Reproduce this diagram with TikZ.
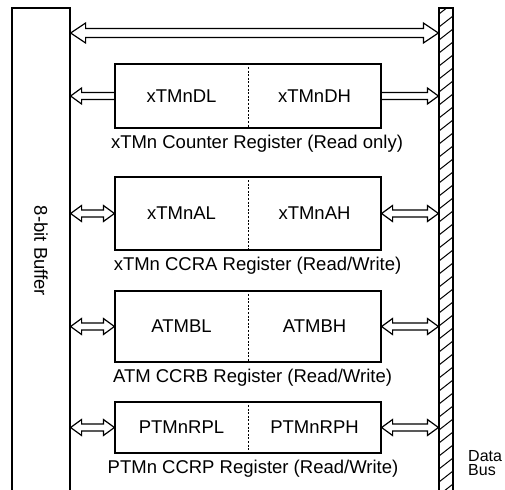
\documentclass[tikz,border=0pt]{standalone}
\usepackage{fontspec}
\setmainfont{Liberation Sans}
\usetikzlibrary{calc}
\tikzset{
  x=1pt, y=-1pt,
  txt/.style={font=\fontsize{18.5}{22}\selectfont, inner sep=0pt},
  dbtxt/.style={font=\fontsize{16}{14.5}\selectfont, inner sep=0pt, align=left},
  reg/.style={draw, line width=1.2pt, minimum width=266pt, inner sep=0pt},
  frame/.style={draw, line width=1.2pt, inner sep=0pt},
  divider/.style={line width=1pt, dash pattern=on 2pt off 1.6pt},
  biarrow/.style n args={3}{line width=1.2pt, to path={
    let \p1=(\tikztostart), \p2=(\tikztotarget) in
    (\x1,\y1) -- (\x1+#1pt,\y1+#2pt) -- (\x1+#1pt,\y1+#3pt) -- (\x2-#1pt,\y1+#3pt)
    -- (\x2-#1pt,\y1+#2pt) -- (\x2,\y1) -- (\x2-#1pt,\y1-#2pt) -- (\x2-#1pt,\y1-#3pt)
    -- (\x1+#1pt,\y1-#3pt) -- (\x1+#1pt,\y1-#2pt) -- cycle}},
  sarrow/.style n args={3}{line width=1.2pt, to path={
    let \p1=(\tikztostart), \p2=(\tikztotarget), \n1={(\x2-\x1)/abs(\x2-\x1)} in
    (\x1,\y1+#3pt) -- (\x2-\n1*#1pt,\y1+#3pt) -- (\x2-\n1*#1pt,\y1+#2pt) -- (\x2,\y1)
    -- (\x2-\n1*#1pt,\y1-#2pt) -- (\x2-\n1*#1pt,\y1-#3pt) -- (\x1,\y1-#3pt)}},
  bigbi/.style={biarrow={15}{10}{4.5}},
  bi/.style={biarrow={11}{8}{3.5}},
  one/.style={sarrow={11}{8}{3.5}},
}
\begin{document}
\begin{tikzpicture}
\useasboundingbox (0,0) rectangle (505,489);
% 8-bit buffer
\node[frame, minimum width=58pt, minimum height=486pt] (buf) at (41,251) {};
\node[txt, rotate=-90] (buftxt) at (41,251) {8-bit Buffer};
% data bus
\node[frame, minimum width=14pt, minimum height=486pt] (bus) at (446,251) {};
\begin{scope}
  \clip (bus.south west) rectangle (bus.north east);
  \foreach \yy in {14,27,...,510} \draw[line width=1pt] (439,\yy) -- (453,\yy-11);
\end{scope}
\node[frame, minimum width=14pt, minimum height=486pt] at (446,251) {};
\node[dbtxt, anchor=west] (dbus) at (468,463) {Data\\Bus};
% top arrow
\coordinate (toprow) at (0,33);
\draw[bigbi] (toprow -| buf.east) to (toprow -| bus.west);
% registers
\foreach \k/\yt/\yb/\lo/\hi/\lab/\lx in {
  1/64/128/xTMnDL/xTMnDH/{xTMn Counter Register (Read only)}/257,
  2/177/250/xTMnAL/xTMnAH/{xTMn CCRA Register (Read/Write)}/257.5,
  3/291/362/ATMBL/ATMBH/{ATM CCRB Register (Read/Write)}/252.5,
  4/402/453/PTMnRPL/PTMnRPH/{PTMn CCRP Register (Read/Write)}/253}{
  \node[reg, minimum height=\yb pt-\yt pt] (r\k) at (248,{(\yt+\yb)/2}) {};
  \draw[divider] (r\k.north) -- (r\k.south);
  \node[txt] (r\k l) at (181.5,{(\yt+\yb)/2}) {\lo};
  \node[txt] (r\k h) at (314.5,{(\yt+\yb)/2}) {\hi};
  \node[txt] (r\k lab) at (\lx,\yb+16) {\lab};
}
% row arrows
\draw[one] (r1.west) to (r1.west -| buf.east);
\draw[one] (r1.east) to (r1.east -| bus.west);
\foreach \k in {2,3,4}{
  \draw[bi] (r\k.west -| buf.east) to (r\k.west);
  \draw[bi] (r\k.east) to (r\k.east -| bus.west);
}
\end{tikzpicture}
\end{document}
